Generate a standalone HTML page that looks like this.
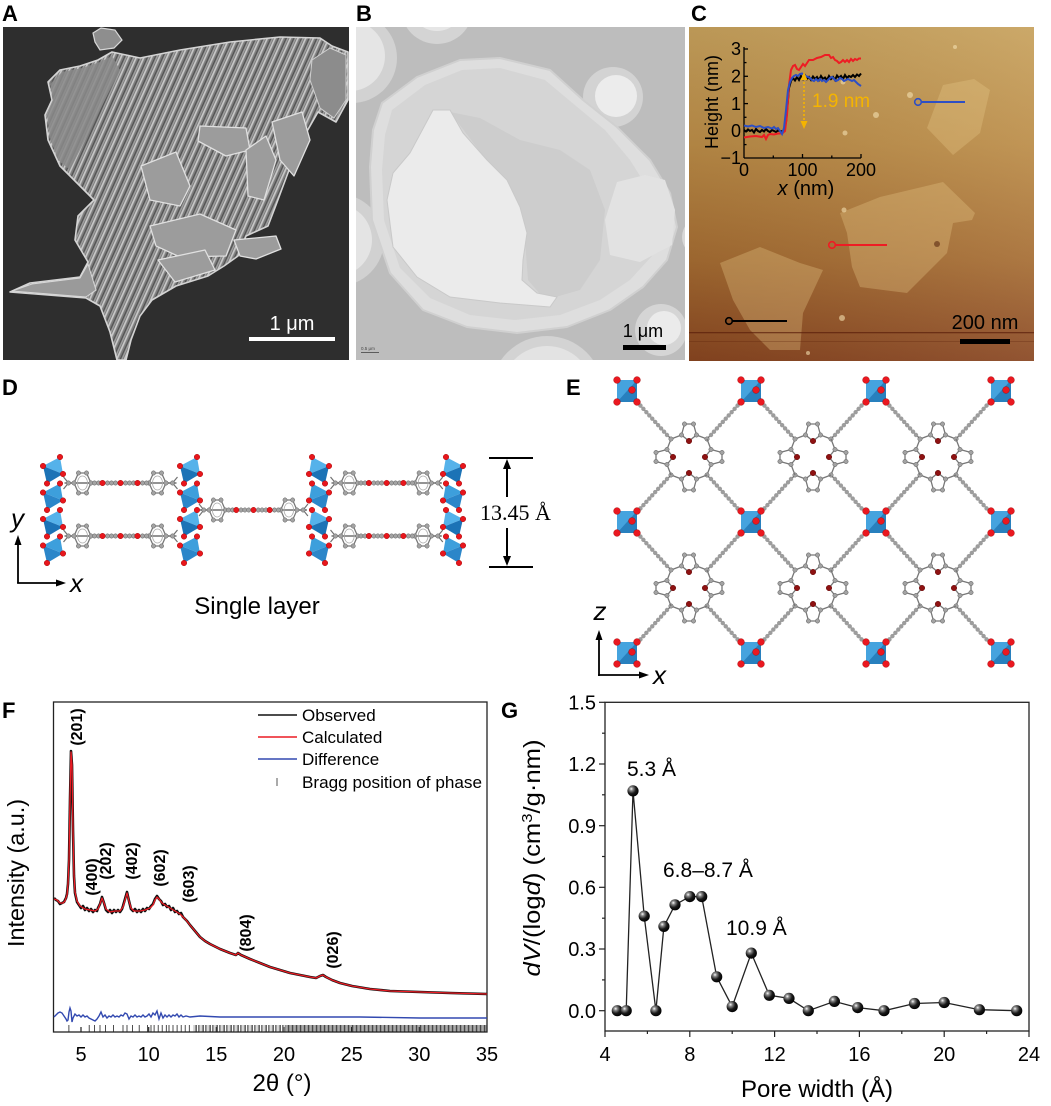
<!DOCTYPE html>
<html><head><meta charset="utf-8">
<style>
html,body{margin:0;padding:0;background:#fff;}
svg{display:block;}
text{font-family:"Liberation Sans",Arial,sans-serif;}
</style></head><body>
<svg width="1051" height="1106" viewBox="0 0 1051 1106" xmlns="http://www.w3.org/2000/svg">
<defs>
 <pattern id="str" width="7" height="7" patternUnits="userSpaceOnUse" patternTransform="rotate(24)">
  <rect width="7" height="7" fill="#7e7e7e"/>
  <rect x="0" width="1.7" height="7" fill="#c8c8c8"/>
  <rect x="3.4" width="1.1" height="7" fill="#505050"/>
  <rect x="5.2" width="0.8" height="7" fill="#ababab"/>
 </pattern>
 <pattern id="bt1" width="7" height="8" patternUnits="userSpaceOnUse">
  <rect x="0" width="0.7" height="8" fill="#222"/><rect x="2.4" width="0.7" height="8" fill="#222"/><rect x="3.6" width="0.6" height="8" fill="#444"/><rect x="5.8" width="0.7" height="8" fill="#222"/>
 </pattern>
 <pattern id="bt2" width="4" height="8" patternUnits="userSpaceOnUse">
  <rect x="0" width="0.8" height="8" fill="#1a1a1a"/><rect x="1.5" width="0.7" height="8" fill="#222"/><rect x="2.8" width="0.7" height="8" fill="#333"/>
 </pattern>
 <clipPath id="cA"><rect x="3" y="27" width="346" height="333"/></clipPath>
 <clipPath id="cB"><rect x="356" y="27" width="329" height="333"/></clipPath>
 <clipPath id="cC"><rect x="689" y="27" width="345" height="334"/></clipPath>
 <linearGradient id="afm" x1="0" y1="0" x2="0" y2="1">
  <stop offset="0" stop-color="#c7a15c"/>
  <stop offset="0.35" stop-color="#bb8c47"/>
  <stop offset="0.7" stop-color="#a56c32"/>
  <stop offset="1" stop-color="#884520"/>
 </linearGradient>
 <linearGradient id="afm2" x1="0" y1="0" x2="1" y2="0">
  <stop offset="0" stop-color="#000" stop-opacity="0.06"/>
  <stop offset="1" stop-color="#fff" stop-opacity="0.08"/>
 </linearGradient>
 <radialGradient id="ball" cx="0.35" cy="0.32" r="0.7">
  <stop offset="0" stop-color="#ffffff"/>
  <stop offset="0.22" stop-color="#8a8a8a"/>
  <stop offset="0.6" stop-color="#1a1a1a"/>
  <stop offset="1" stop-color="#000"/>
 </radialGradient>
 <circle id="gb" r="2.2" fill="#a3a3a3" stroke="#5e5e5e" stroke-width="0.5"/>
 <circle id="rb" r="2.8" fill="#e8161c" stroke="#9a0000" stroke-width="0.4"/>
 <circle id="rs" r="3.4" fill="#ea1820" stroke="#a00000" stroke-width="0.4"/>
 <circle id="nb" r="2.8" fill="#8e1212" stroke="#500" stroke-width="0.4"/>
 <!-- D linker -->
 <g id="lk">
  <line x1="0" y1="0" x2="112" y2="0" stroke="#707070" stroke-width="1.4"/>
  <line x1="4" y1="0" x2="-1" y2="-6" stroke="#707070" stroke-width="1.2"/>
  <line x1="4" y1="0" x2="-1" y2="6" stroke="#707070" stroke-width="1.2"/>
  <line x1="108" y1="0" x2="113" y2="-6" stroke="#707070" stroke-width="1.2"/>
  <line x1="108" y1="0" x2="113" y2="6" stroke="#707070" stroke-width="1.2"/>
  <polygon points="14,-10 22,-10 26.5,0 22,10 14,10 9.5,0" fill="none" stroke="#777" stroke-width="1.3"/>
  <ellipse cx="18" cy="0" rx="5" ry="7" fill="none" stroke="#aaa" stroke-width="0.8"/>
  <polygon points="89,-10 97,-10 101.5,0 97,10 89,10 84.5,0" fill="none" stroke="#777" stroke-width="1.3"/>
  <ellipse cx="93" cy="0" rx="5" ry="7" fill="none" stroke="#aaa" stroke-width="0.8"/>
  <use href="#gb" x="4" y="0"/><use href="#gb" x="108" y="0"/>
  <use href="#gb" x="14" y="-10"/><use href="#gb" x="22" y="-10"/><use href="#gb" x="26.5" y="0"/><use href="#gb" x="22" y="10"/><use href="#gb" x="14" y="10"/><use href="#gb" x="9.5" y="0"/>
  <use href="#gb" x="89" y="-10"/><use href="#gb" x="97" y="-10"/><use href="#gb" x="101.5" y="0"/><use href="#gb" x="97" y="10"/><use href="#gb" x="89" y="10"/><use href="#gb" x="84.5" y="0"/>
  <use href="#gb" x="30" y="0"/><use href="#gb" x="34" y="0"/><use href="#gb" x="43" y="0"/><use href="#gb" x="47" y="0"/><use href="#gb" x="51" y="0"/><use href="#gb" x="61" y="0"/><use href="#gb" x="65" y="0"/><use href="#gb" x="69" y="0"/><use href="#gb" x="78" y="0"/><use href="#gb" x="82" y="0"/>
  <use href="#rb" x="38" y="0"/><use href="#rb" x="56" y="0"/><use href="#rb" x="73" y="0"/>
 </g>
 <!-- D SBU column -->
 <g id="col">
  <polygon points="20,0 3,9 23,17" fill="#55b2ea"/><polygon points="3,9 7,26.5 23,17" fill="#1c73b6"/>
  <polygon points="20,26.5 3,35.5 23,43.5" fill="#3d9fdc"/><polygon points="3,35.5 7,53 23,43.5" fill="#2b86c9"/>
  <polygon points="20,53 3,62 23,70" fill="#55b2ea"/><polygon points="3,62 7,79.5 23,70" fill="#1c73b6"/>
  <polygon points="20,79.5 3,88.5 23,96.5" fill="#3d9fdc"/><polygon points="3,88.5 7,106 23,96.5" fill="#2b86c9"/>
  <use href="#rb" x="20" y="0"/><use href="#rb" x="3" y="9"/><use href="#rb" x="23" y="17"/><use href="#rb" x="7" y="26.5"/>
  <use href="#rb" x="20" y="26.5"/><use href="#rb" x="3" y="35.5"/><use href="#rb" x="23" y="43.5"/><use href="#rb" x="7" y="53"/>
  <use href="#rb" x="20" y="53"/><use href="#rb" x="3" y="62"/><use href="#rb" x="23" y="70"/><use href="#rb" x="7" y="79.5"/>
  <use href="#rb" x="20" y="79.5"/><use href="#rb" x="3" y="88.5"/><use href="#rb" x="23" y="96.5"/><use href="#rb" x="7" y="106"/>
 </g>
 <!-- E pyrrole -->
 <g id="pyr">
  <polygon points="0,-16 7.5,-22 4.5,-33 -4.5,-33 -7.5,-22" fill="none" stroke="#777" stroke-width="1.3"/>
  <line x1="7.5" y1="-22" x2="18" y2="-18" stroke="#777" stroke-width="1.3"/>
  <line x1="-7.5" y1="-22" x2="-18" y2="-18" stroke="#777" stroke-width="1.3"/>
  <use href="#gb" x="7.5" y="-22"/><use href="#gb" x="4.5" y="-33"/><use href="#gb" x="-4.5" y="-33"/><use href="#gb" x="-7.5" y="-22"/>
  <use href="#gb" x="18" y="-18"/>
  <use href="#nb" x="0" y="-16"/>
 </g>
 <g id="lkE">
  <line x1="-18" y1="-18" x2="-52" y2="-55" stroke="#6e6e6e" stroke-width="1.3"/>
  <line x1="-22" y1="-22" x2="-50" y2="-53" stroke="#9d9d9d" stroke-width="4.4" stroke-dasharray="0 4.4" stroke-linecap="round"/>
 </g>
 <g id="por">
  <use href="#lkE"/>
  <use href="#lkE" transform="scale(-1,1)"/>
  <use href="#lkE" transform="scale(1,-1)"/>
  <use href="#lkE" transform="scale(-1,-1)"/>
  <use href="#pyr"/>
  <use href="#pyr" transform="rotate(90)"/>
  <use href="#pyr" transform="rotate(180)"/>
  <use href="#pyr" transform="rotate(270)"/>
 </g>
 <g id="sq">
  <rect x="-10" y="-11" width="20" height="22" fill="#45a3de"/>
  <polygon points="10,-11 10,11 -10,11" fill="#1f74b3" opacity="0.75"/>
  <use href="#rs" x="-10" y="-11"/><use href="#rs" x="10" y="-11"/><use href="#rs" x="-10" y="11"/><use href="#rs" x="10" y="11"/><use href="#rs" x="5" y="-1"/>
 </g>
</defs>

<!-- Panel labels -->
<g font-weight="bold" font-size="22" fill="#000">
 <text x="2" y="21">A</text>
 <text x="356" y="21">B</text>
 <text x="691" y="21">C</text>
 <text x="2" y="395">D</text>
 <text x="566" y="395">E</text>
 <text x="2" y="718">F</text>
 <text x="501" y="718">G</text>
</g>

<!-- ===== Panel A ===== -->
<g clip-path="url(#cA)">
 <rect x="3" y="27" width="346" height="333" fill="#2e2e2e"/>
 <polygon points="48,82 60,70 80,66 98,60 112,52 140,58 180,50 230,42 280,37 320,38 332,46 348,52 348,100 336,122 318,112 302,140 292,162 276,205 268,226 246,236 238,256 224,266 208,276 176,286 152,300 140,316 131,340 126,360 117,360 110,332 100,306 86,298 10,292 30,283 80,277 88,262 75,240 78,216 94,200 80,186 60,166 48,140 45,115 52,100" fill="url(#str)" stroke="#d4d4d4" stroke-width="1.6" stroke-linejoin="round"/>
 <polygon points="50,84 62,72 82,68 100,62 112,56 120,70 100,110 80,150 70,170 58,160 50,138 47,115 53,100" fill="#8a8a8a" opacity="0.85"/>
 <polygon points="12,291 32,284 80,278 88,264 96,290 86,297" fill="#9a9a9a" stroke="#d8d8d8" stroke-width="1"/>
 <polygon points="93,33 101,28 115,30 122,40 114,48 100,50 95,42" fill="#8e8e8e" stroke="#d8d8d8" stroke-width="1.2"/>
 <polygon points="312,60 330,48 346,55 346,100 334,118 320,108 310,80" fill="#8c8c8c" stroke="#cfcfcf" stroke-width="1"/>
 <g fill="#9c9c9c" stroke="#e0e0e0" stroke-width="1.3" stroke-linejoin="round">
  <polygon points="200,126 246,128 250,150 226,156 198,141"/>
  <polygon points="141,166 176,152 190,186 180,206 150,200"/>
  <polygon points="150,226 200,214 236,230 226,256 180,257 156,246"/>
  <polygon points="234,240 276,236 281,249 256,259 240,256"/>
  <polygon points="246,150 266,136 276,160 264,200 248,196"/>
  <polygon points="158,260 205,250 215,270 175,282"/>
  <polygon points="272,122 302,112 310,140 294,176 280,160"/>
 </g>
 <rect x="249" y="337" width="86" height="4" fill="#fff"/>
 <text x="292" y="330" font-size="20" fill="#fff" text-anchor="middle">1 μm</text>
</g>

<!-- ===== Panel B ===== -->
<g clip-path="url(#cB)">
 <rect x="356" y="27" width="329" height="333" fill="#bdbdbd"/>
 <circle cx="352" cy="58" r="45" fill="#d2d2d2"/><circle cx="350" cy="56" r="35" fill="#e5e5e5"/>
 <circle cx="437" cy="8" r="36" fill="#d4d4d4"/><circle cx="437" cy="4" r="27" fill="#e6e6e6"/>
 <circle cx="338" cy="240" r="46" fill="#d1d1d1"/><circle cx="336" cy="240" r="36" fill="#e4e4e4"/>
 <circle cx="613" cy="97" r="30" fill="#d3d3d3"/><circle cx="616" cy="96" r="21" fill="#ececec"/>
 <circle cx="661" cy="330" r="26" fill="#d5d5d5"/><circle cx="664" cy="328" r="17" fill="#ebebeb"/>
 <circle cx="547" cy="392" r="56" fill="#d3d3d3"/><circle cx="547" cy="392" r="46" fill="#e3e3e3"/>
 <circle cx="702" cy="237" r="20" fill="#d8d8d8"/>
 <polygon points="382,103 417,77 460,60 500,58 550,70 583,100 617,127 650,160 670,193 677,227 667,260 643,287 610,310 567,327 517,333 467,327 423,310 390,273 372,220 370,167 373,130" fill="#dedede" stroke="#d0d0d0" stroke-width="2" stroke-linejoin="round"/>
 <polygon points="392,110 425,85 462,70 500,68 545,80 576,106 605,130 630,160 652,195 660,228 652,256 630,280 600,300 560,315 515,320 470,315 430,298 400,268 384,220 382,170 385,135" fill="#d5d5d5"/>
 <polygon points="450,112 480,118 520,140 560,150 590,170 605,210 600,260 580,290 545,300 528,280 525,240 515,205 490,165" fill="#cdcdcd"/>
 <polygon points="617,182 645,175 665,180 675,210 672,245 640,262 610,255 605,220" fill="#e2e2e2"/>
 <polygon points="387,200 393,173 410,153 433,110 450,110 463,133 487,160 507,180 520,207 527,233 523,260 522,280 537,293 557,297 550,307 500,303 450,297 417,277 393,247" fill="#ebebeb" stroke="#c9c9c9" stroke-width="1"/>
 <text x="643" y="337" font-size="18" fill="#000" text-anchor="middle">1 μm</text>
 <rect x="623" y="345" width="43" height="5" fill="#000"/>
 <text x="361" y="350" font-size="4.5" fill="#444">0.5 μm</text>
 <rect x="361" y="352" width="18" height="0.8" fill="#444"/>
</g>

<!-- ===== Panel C ===== -->
<g clip-path="url(#cC)">
 <rect x="689" y="27" width="345" height="334" fill="url(#afm)"/>
 <rect x="689" y="27" width="345" height="334" fill="url(#afm2)"/>
 <g fill="#e8c888" opacity="0.33">
  <polygon points="943,85 974,79 990,90 980,133 953,155 927,128"/>
  <polygon points="840,213 880,197 943,182 975,213 972,220 953,223 947,253 907,293 860,287 852,267 847,233"/>
  <polygon points="720,263 760,247 800,263 823,270 803,313 800,350 770,350 750,330 733,300"/>
 </g>
 <g fill="#f4e0b0" opacity="0.6">
  <circle cx="910" cy="95" r="3"/><circle cx="876" cy="115" r="3"/><circle cx="845" cy="133" r="2.5"/><circle cx="843" cy="82" r="2.5"/><circle cx="844" cy="210" r="2.5"/><circle cx="842" cy="318" r="3"/><circle cx="955" cy="47" r="2"/><circle cx="808" cy="353" r="2"/>
 </g>
 <circle cx="937" cy="244" r="3" fill="#5a2a10" opacity="0.6"/>
 <rect x="689" y="332" width="345" height="1.3" fill="#5a1e0a" opacity="0.7"/>
 <rect x="689" y="341" width="345" height="0.8" fill="#5a1e0a" opacity="0.35"/>
 <!-- inset -->
 <g stroke="#000" stroke-width="1.3" fill="none">
  <line x1="744" y1="47" x2="744" y2="158"/>
  <line x1="744" y1="158" x2="861" y2="158"/>
  <line x1="744" y1="49" x2="748" y2="49"/><line x1="744" y1="76.3" x2="748" y2="76.3"/><line x1="744" y1="103.6" x2="748" y2="103.6"/><line x1="744" y1="131" x2="748" y2="131"/>
  <line x1="744" y1="62.6" x2="746.5" y2="62.6"/><line x1="744" y1="90" x2="746.5" y2="90"/><line x1="744" y1="117.3" x2="746.5" y2="117.3"/><line x1="744" y1="144.6" x2="746.5" y2="144.6"/>
  <line x1="802.5" y1="158" x2="802.5" y2="154"/><line x1="861" y1="158" x2="861" y2="154"/>
  <line x1="773.3" y1="158" x2="773.3" y2="155.5"/><line x1="831.8" y1="158" x2="831.8" y2="155.5"/>
 </g>
 <g font-size="18" fill="#000" text-anchor="end">
  <text x="741" y="55">3</text><text x="741" y="82.5">2</text><text x="741" y="110">1</text><text x="741" y="137">0</text><text x="741" y="164">−1</text>
 </g>
 <g font-size="18" fill="#000" text-anchor="middle">
  <text x="744" y="176">0</text><text x="802.5" y="176">100</text><text x="861" y="176">200</text>
 </g>
 <text x="806" y="195" font-size="20" text-anchor="middle"><tspan font-style="italic">x</tspan> (nm)</text>
 <text transform="translate(718,102) rotate(-90)" font-size="18" text-anchor="middle">Height (nm)</text>
 <polyline fill="none" stroke="#000" stroke-width="2" points="744,130 746,131.5 748,129.5 750,131 752,130 754,132.5 756,129 758,131 760,132 762,130 764,131.5 766,129 768,131 770,132 772,130 774,131 776,132 778,130.5 780,131 782,131.5 784,130 786,122 787.5,105 789,88 791,81 793,78 795,80.5 797,77 799,80 801,76 803,79 805,75.5 807,79 809,77 811,80 813,76.5 815,79 817,77 819,80 821,76 823,79 825,77.5 827,80 829,76 831,79 833,77 835,80 837,75.5 839,78 841,76 843,79 845,75 847,78 849,76 851,77 853,75 855,77 857,74.5 859,76 861,73.5"/>
 <polyline fill="none" stroke="#ee1c24" stroke-width="2" points="744,137.5 750,136.5 756,136 762,137 764,135 766,139 768,135 770,134 774,134.5 778,133.5 782,133.5 785,131 787,115 789,85 791,70 793,66 795,65 797,69 799,70 801,67 803,64 805,66 807,63 809,60 813,60 817,58 821,57 825,55 829,55 831,58 833,57 835,60 837,61 839,63 841,62 843,60 845,62 847,60 849,62 851,59 853,61 855,59 857,60 859,58.5 861,58.5"/>
 <polyline fill="none" stroke="#2e4fc4" stroke-width="2" points="744,125.5 748,126.5 752,125.5 756,127 760,126 764,128 768,127 772,128.5 774,127 776,129 778,128 780,131 782,134 784,128 786,110 788,90 790,82 792,78 794,76 796,75 798,76 800,74 802,73.5 804,75 806,76 808,77 810,78 812,80 814,81 816,79 818,81 820,79 822,81 824,80 826,82 828,80 830,78 832,77 834,79 836,81 838,80 840,78 842,79 844,81 846,80 848,79 850,80 852,81 854,80 856,82 858,84 861,86"/>
 <line x1="804" y1="78" x2="804" y2="123" stroke="#f5b400" stroke-width="1.6" stroke-dasharray="2 2"/>
 <polygon points="804,72 800.5,80 807.5,80" fill="#f5b400"/>
 <polygon points="804,129 800.5,121 807.5,121" fill="#f5b400"/>
 <text x="812" y="107" font-size="19" fill="#f5b400">1.9 nm</text>
 <!-- profile markers -->
 <circle cx="918" cy="102" r="3.3" fill="none" stroke="#2e4fc4" stroke-width="1.6"/>
 <line x1="921.3" y1="102" x2="965" y2="102" stroke="#2e4fc4" stroke-width="2"/>
 <circle cx="832" cy="245" r="3.3" fill="none" stroke="#ee1c24" stroke-width="1.6"/>
 <line x1="835.3" y1="245" x2="887" y2="245" stroke="#ee1c24" stroke-width="2"/>
 <circle cx="729" cy="321" r="3.3" fill="none" stroke="#000" stroke-width="1.6"/>
 <line x1="732.3" y1="321" x2="787" y2="321" stroke="#000" stroke-width="2"/>
 <text x="985" y="329" font-size="20" fill="#000" text-anchor="middle">200 nm</text>
 <rect x="960" y="339" width="50" height="5" fill="#000"/>
</g>

<!-- ===== Panel D ===== -->
<use href="#lk" transform="translate(64.5,483) scale(1.0,1)"/>
<use href="#lk" transform="translate(64.5,536) scale(1.0,1)"/>
<use href="#lk" transform="translate(331.5,483) scale(0.985,1)"/>
<use href="#lk" transform="translate(331.5,536) scale(0.985,1)"/>
<use href="#lk" transform="translate(200,510) scale(0.955,1)"/>
<use href="#col" x="40" y="457"/>
<use href="#col" x="177" y="457"/>
<use href="#col" transform="translate(332,457) scale(-1,1)"/>
<use href="#col" transform="translate(466,457) scale(-1,1)"/>
<g stroke="#000" stroke-width="2">
 <line x1="489" y1="458" x2="533" y2="458"/>
 <line x1="489" y1="567" x2="533" y2="567"/>
 <line x1="507" y1="466" x2="507" y2="497"/>
 <line x1="507" y1="528" x2="507" y2="559"/>
</g>
<polygon points="507,459 503,469 511,469" fill="#000"/>
<polygon points="507,566 503,556 511,556" fill="#000"/>
<text x="480" y="520" font-size="22" style="font-family:'Liberation Serif',serif">13.45 Å</text>
<g stroke="#000" stroke-width="1.8">
 <line x1="18" y1="583" x2="18" y2="542"/>
 <line x1="17.1" y1="583" x2="59" y2="583"/>
</g>
<polygon points="18,535 14.5,545 21.5,545" fill="#000"/>
<polygon points="66,583 56,579.5 56,586.5" fill="#000"/>
<text x="11" y="527" font-size="26" font-style="italic">y</text>
<text x="70" y="592" font-size="26" font-style="italic">x</text>
<text x="257" y="614" font-size="24" text-anchor="middle">Single layer</text>

<!-- ===== Panel E ===== -->
<use href="#por" x="689" y="457"/><use href="#por" x="813" y="457"/><use href="#por" x="938" y="457"/>
<use href="#por" x="689" y="588"/><use href="#por" x="813" y="588"/><use href="#por" x="938" y="588"/>
<use href="#sq" x="627" y="391"/><use href="#sq" x="751" y="391"/><use href="#sq" x="876" y="391"/><use href="#sq" x="1001" y="391"/>
<use href="#sq" x="627" y="522"/><use href="#sq" x="751" y="522"/><use href="#sq" x="876" y="522"/><use href="#sq" x="1001" y="522"/>
<use href="#sq" x="627" y="653"/><use href="#sq" x="751" y="653"/><use href="#sq" x="876" y="653"/><use href="#sq" x="1001" y="653"/>
<g stroke="#000" stroke-width="1.8">
 <line x1="599" y1="676" x2="599" y2="637"/>
 <line x1="598.1" y1="675" x2="642" y2="675"/>
</g>
<polygon points="599,630 595.5,640 602.5,640" fill="#000"/>
<polygon points="649,675 639,671.5 639,678.5" fill="#000"/>
<text x="600" y="620" font-size="26" font-style="italic" text-anchor="middle">z</text>
<text x="653" y="684" font-size="26" font-style="italic">x</text>

<!-- ===== Panel F ===== -->
<rect x="53.5" y="702" width="433.5" height="330" fill="none" stroke="#222" stroke-width="1.3"/>
<g stroke="#222" stroke-width="0.8">
 <line x1="68.9" y1="1025" x2="68.9" y2="1032"/><line x1="89.2" y1="1025" x2="89.2" y2="1032"/><line x1="94.6" y1="1025" x2="94.6" y2="1032"/><line x1="100" y1="1025" x2="100" y2="1032"/><line x1="105.4" y1="1025" x2="105.4" y2="1032"/><line x1="113.5" y1="1025" x2="113.5" y2="1032"/><line x1="123" y1="1025" x2="123" y2="1032"/><line x1="127" y1="1025" x2="127" y2="1032"/><line x1="132.5" y1="1025" x2="132.5" y2="1032"/><line x1="139.2" y1="1025" x2="139.2" y2="1032"/><line x1="147.4" y1="1025" x2="147.4" y2="1032"/><line x1="151" y1="1025" x2="151" y2="1032"/><line x1="154.1" y1="1025" x2="154.1" y2="1032"/><line x1="158.2" y1="1025" x2="158.2" y2="1032"/><line x1="162.2" y1="1025" x2="162.2" y2="1032"/><line x1="166.3" y1="1025" x2="166.3" y2="1032"/><line x1="169" y1="1025" x2="169" y2="1032"/><line x1="173" y1="1025" x2="173" y2="1032"/><line x1="177.1" y1="1025" x2="177.1" y2="1032"/><line x1="181.2" y1="1025" x2="181.2" y2="1032"/><line x1="185.2" y1="1025" x2="185.2" y2="1032"/><line x1="189.3" y1="1025" x2="189.3" y2="1032"/>
</g>
<rect x="193" y="1025" width="92" height="7" fill="url(#bt1)"/>
<rect x="285" y="1025" width="202" height="7" fill="url(#bt2)"/>
<g stroke="#222" stroke-width="1.2">
 <line x1="81" y1="1032" x2="81" y2="1027"/><line x1="148.7" y1="1032" x2="148.7" y2="1027"/><line x1="216.3" y1="1032" x2="216.3" y2="1027"/><line x1="284" y1="1032" x2="284" y2="1027"/><line x1="351.7" y1="1032" x2="351.7" y2="1027"/><line x1="419.3" y1="1032" x2="419.3" y2="1027"/>
</g>
<g font-size="20" text-anchor="middle" fill="#000">
 <text x="81" y="1061">5</text><text x="148.7" y="1061">10</text><text x="216.3" y="1061">15</text><text x="284" y="1061">20</text><text x="351.7" y="1061">25</text><text x="419.3" y="1061">30</text><text x="487" y="1061">35</text>
</g>
<text x="282" y="1091" font-size="24" text-anchor="middle">2θ (°)</text>
<text transform="translate(24,873) rotate(-90)" font-size="23" text-anchor="middle" textLength="148" lengthAdjust="spacingAndGlyphs">Intensity (a.u.)</text>
<polyline fill="none" stroke="#3249b0" stroke-width="1.4" points="54,1017 56,1015 58,1013 60,1012 62,1013 64,1016 66,1019 67,1021 68,1020 69,1012 70,1008 71,1011 72,1022 73,1018 75,1014 77,1016 79,1015 81,1017 83,1015 85,1017 87,1016 89,1018 91,1019 93,1020 95,1021 97,1019 99,1016 101,1012 103,1017 105,1015 107,1018 109,1016 111,1017 113,1015 115,1017 117,1016 119,1017 121,1015 123,1016 125,1013 127,1014 129,1019 131,1016 133,1017 135,1015 137,1017 139,1016 141,1017 143,1015 145,1017 147,1016 149,1014 151,1017 153,1013 155,1015 157,1011 159,1019 161,1013 163,1018 165,1015 167,1017 169,1015 171,1017 173,1015 175,1016 177,1014 179,1017 181,1015 183,1017 186,1016 190,1017 200,1016 220,1017 260,1017 300,1017 360,1017 420,1018 487,1018"/>
<polyline fill="none" stroke="#111" stroke-width="2.6" stroke-linejoin="round" points="54,898 56,900 58,901 60,904 62,903 64,902 66,898 67,894 68,884 69,860 70,800 71,751 72,765 73,830 74,876 75,893 77,902 79,905 81,908 83,906 85,910 87,908 89,911 91,909 93,912 95,910 97,911 98,908 100,904 102,897 104,903 106,910 108,912 110,910 112,913 114,910 116,912 118,910 120,912 122,909 123,906 125,899 127,892 129,901 131,909 133,911 135,909 137,912 139,910 141,912 143,909 145,911 147,908 149,909 151,906 153,904 155,899 157,896 159,899 161,901 163,905 165,904 167,907 169,906 171,910 173,908 175,912 177,911 179,914 181,913 183,917 185,919 187,921 190,925 195,931 200,937 205,941 210,944 220,949 230,953 236,955 238,953 241,955 250,959 260,963 270,967 280,970 290,973 300,975 310,977 316,978 320,976 323,975 326,977 332,980 340,983 352,986 370,989 390,991 420,992 450,993 487,994"/>
<polyline fill="none" stroke="#ec1c24" stroke-width="1.3" stroke-linejoin="round" points="54,899 57,900 60,903 63,903 65,901 67,895 68,884 69,860 70,800 71,752 72,765 73,830 74,875 75,892 77,901 80,906 85,909 90,910 95,911 98,909 100,904 102,898 104,903 106,909 110,912 115,911 120,911 123,907 125,900 127,893 129,901 131,908 134,911 140,911 145,910 150,908 153,905 155,900 157,897 159,899 162,903 165,905 170,908 175,911 180,914 183,917 186,920 190,925 195,931 200,937 205,941 210,944 220,949 230,953 236,955 238,953 241,955 250,959 260,963 270,967 280,970 290,973 300,975 310,977 316,978 320,976 323,975 326,977 332,980 340,983 352,986 370,989 390,991 420,992 450,993 487,994"/>
<line x1="258" y1="715" x2="297" y2="715" stroke="#111" stroke-width="1.5"/>
<line x1="258" y1="737" x2="297" y2="737" stroke="#ec1c24" stroke-width="1.5"/>
<line x1="258" y1="759" x2="297" y2="759" stroke="#3249b0" stroke-width="1.5"/>
<line x1="277" y1="778" x2="277" y2="786" stroke="#555" stroke-width="1"/>
<g font-size="17" fill="#000">
 <text x="302" y="721">Observed</text>
 <text x="302" y="743">Calculated</text>
 <text x="302" y="765">Difference</text>
 <text x="302" y="788" textLength="180" lengthAdjust="spacingAndGlyphs">Bragg position of phase</text>
</g>
<g font-size="16" font-weight="bold" text-anchor="middle" fill="#000">
 <text transform="translate(82,727) rotate(-90)">(201)</text>
 <text transform="translate(97,877) rotate(-90)">(400)</text>
 <text transform="translate(111,861) rotate(-90)">(202)</text>
 <text transform="translate(137,861) rotate(-90)">(402)</text>
 <text transform="translate(165,868) rotate(-90)">(602)</text>
 <text transform="translate(194,884) rotate(-90)">(603)</text>
 <text transform="translate(251,933) rotate(-90)">(804)</text>
 <text transform="translate(338,950) rotate(-90)">(026)</text>
</g>

<!-- ===== Panel G ===== -->
<rect x="605" y="702.3" width="424" height="328.7" fill="none" stroke="#222" stroke-width="1.3"/>
<g stroke="#222" stroke-width="1.2">
 <line x1="605" y1="1010.7" x2="599" y2="1010.7"/><line x1="605" y1="949" x2="599" y2="949"/><line x1="605" y1="887.3" x2="599" y2="887.3"/><line x1="605" y1="825.7" x2="599" y2="825.7"/><line x1="605" y1="764" x2="599" y2="764"/><line x1="605" y1="702.3" x2="599" y2="702.3"/>
 <line x1="605" y1="979.9" x2="602" y2="979.9"/><line x1="605" y1="918.2" x2="602" y2="918.2"/><line x1="605" y1="856.5" x2="602" y2="856.5"/><line x1="605" y1="794.8" x2="602" y2="794.8"/><line x1="605" y1="733.2" x2="602" y2="733.2"/>
 <line x1="605" y1="1031" x2="605" y2="1037"/><line x1="689.8" y1="1031" x2="689.8" y2="1037"/><line x1="774.6" y1="1031" x2="774.6" y2="1037"/><line x1="859.4" y1="1031" x2="859.4" y2="1037"/><line x1="944.2" y1="1031" x2="944.2" y2="1037"/><line x1="1029" y1="1031" x2="1029" y2="1037"/>
 <line x1="647.4" y1="1031" x2="647.4" y2="1034"/><line x1="732.2" y1="1031" x2="732.2" y2="1034"/><line x1="817" y1="1031" x2="817" y2="1034"/><line x1="901.8" y1="1031" x2="901.8" y2="1034"/><line x1="986.6" y1="1031" x2="986.6" y2="1034"/>
</g>
<g font-size="20" text-anchor="end" fill="#000">
 <text x="596" y="1018">0.0</text><text x="596" y="956">0.3</text><text x="596" y="894.5">0.6</text><text x="596" y="833">0.9</text><text x="596" y="771">1.2</text><text x="596" y="709.5">1.5</text>
</g>
<g font-size="20" text-anchor="middle" fill="#000">
 <text x="605" y="1061">4</text><text x="689.8" y="1061">8</text><text x="774.6" y="1061">12</text><text x="859.4" y="1061">16</text><text x="944.2" y="1061">20</text><text x="1029" y="1061">24</text>
</g>
<text x="817" y="1097" font-size="24" text-anchor="middle">Pore width (Å)</text>
<text transform="translate(540,858) rotate(-90)" font-size="23" text-anchor="middle" textLength="237" lengthAdjust="spacingAndGlyphs"><tspan font-style="italic">dV</tspan>/(log<tspan font-style="italic">d</tspan>) (cm<tspan font-size="15" dy="-8">3</tspan><tspan dy="8">/g·nm)</tspan></text>
<polyline fill="none" stroke="#222" stroke-width="1.3" points="617.3,1010.7 626.2,1010.7 633,790.9 644.2,916.1 655.9,1010.7 663.9,926.4 675,904.8 689.8,896.6 701.7,896.6 716.7,976.8 732.2,1006.6 751.3,953.1 769.3,995.3 789,998.4 808.3,1010.7 834.4,1001.4 857.7,1007.6 884,1010.7 914.5,1003.5 944.2,1002.5 979.4,1009.7 1016.7,1010.7"/>
<g fill="url(#ball)">
 <circle cx="617.3" cy="1010.7" r="5.6"/><circle cx="626.2" cy="1010.7" r="5.6"/><circle cx="633" cy="790.9" r="5.6"/><circle cx="644.2" cy="916.1" r="5.6"/><circle cx="655.9" cy="1010.7" r="5.6"/><circle cx="663.9" cy="926.4" r="5.6"/><circle cx="675" cy="904.8" r="5.6"/><circle cx="689.8" cy="896.6" r="5.6"/><circle cx="701.7" cy="896.6" r="5.6"/><circle cx="716.7" cy="976.8" r="5.6"/><circle cx="732.2" cy="1006.6" r="5.6"/><circle cx="751.3" cy="953.1" r="5.6"/><circle cx="769.3" cy="995.3" r="5.6"/><circle cx="789" cy="998.4" r="5.6"/><circle cx="808.3" cy="1010.7" r="5.6"/><circle cx="834.4" cy="1001.4" r="5.6"/><circle cx="857.7" cy="1007.6" r="5.6"/><circle cx="884" cy="1010.7" r="5.6"/><circle cx="914.5" cy="1003.5" r="5.6"/><circle cx="944.2" cy="1002.5" r="5.6"/><circle cx="979.4" cy="1009.7" r="5.6"/><circle cx="1016.7" cy="1010.7" r="5.6"/>
</g>
<g font-size="21" fill="#000">
 <text x="627" y="776">5.3 Å</text>
 <text x="663" y="877">6.8–8.7 Å</text>
 <text x="726" y="935">10.9 Å</text>
</g>
</svg>
</body></html>
